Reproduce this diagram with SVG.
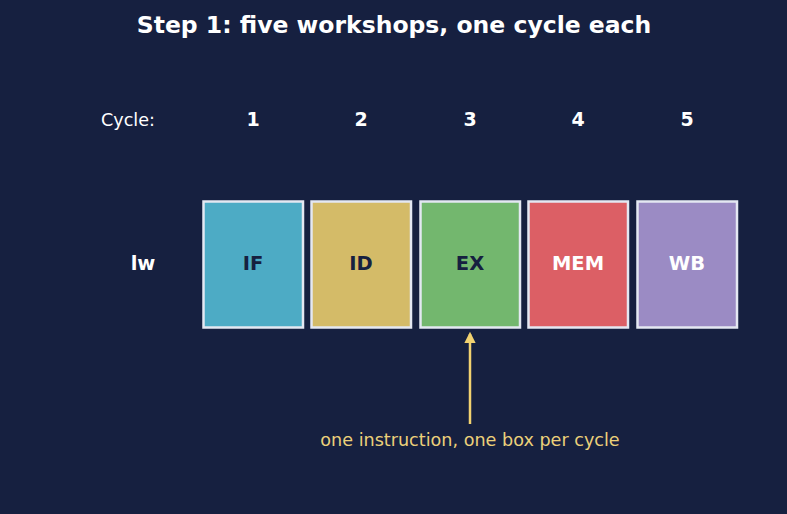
<svg xmlns="http://www.w3.org/2000/svg" width="787" height="514" viewBox="0 0 787 514">
<defs>
<style>
text{font-family:"DejaVu Sans","Liberation Sans",sans-serif;}
.title{font-size:23.5px;font-weight:bold;fill:#ffffff;text-anchor:middle;}
.cyc{font-size:17.6px;fill:#ffffff;text-anchor:middle;}
.num{font-size:19px;font-weight:bold;fill:#ffffff;text-anchor:middle;}
.box{stroke:#e4e8f2;stroke-width:2.5;}
.lbl{font-size:19.5px;font-weight:bold;text-anchor:middle;}
.dark{fill:#162040;}
.light{fill:#ffffff;}
.note{font-size:17.6px;fill:#ecd07a;text-anchor:middle;}
</style>
<marker id="ah" viewBox="0 0 10 10" refX="8" refY="5" markerWidth="4.5" markerHeight="4.5" orient="auto">
<path d="M0,0 L10,5 L0,10 Z" fill="#f2d270"/>
</marker>
</defs>
<rect width="787" height="514" fill="#162040"/>
<text class="title" x="394" y="33">Step 1: five workshops, one cycle each</text>
<text class="cyc" x="128" y="126">Cycle:</text>
<text class="num" x="253" y="126">1</text>
<text class="num" x="361" y="126">2</text>
<text class="num" x="470" y="126">3</text>
<text class="num" x="578" y="126">4</text>
<text class="num" x="687" y="126">5</text>
<text class="lbl light" x="143" y="270">lw</text>
<g id="IF"><rect class="box" x="203.5" y="201.5" width="99.5" height="126" fill="#4dabc5"/><text class="lbl dark" x="253" y="270">IF</text></g>
<g id="ID"><rect class="box" x="311.5" y="201.5" width="99.5" height="126" fill="#d4bb68"/><text class="lbl dark" x="361" y="270">ID</text></g>
<g id="EX"><rect class="box" x="420.5" y="201.5" width="99.5" height="126" fill="#73b76e"/><text class="lbl dark" x="470" y="270">EX</text></g>
<g id="MEM"><rect class="box" x="528.5" y="201.5" width="99.5" height="126" fill="#dc5f65"/><text class="lbl light" x="578" y="270">MEM</text></g>
<g id="WB"><rect class="box" x="637.5" y="201.5" width="99.5" height="126" fill="#9b8bc4"/><text class="lbl light" x="687" y="270">WB</text></g>
<g id="connectors">
<line x1="470" y1="424" x2="470" y2="334" stroke="#f2d270" stroke-width="2.5" marker-end="url(#ah)"/>
</g>
<text class="note" x="470" y="446">one instruction, one box per cycle</text>
</svg>
